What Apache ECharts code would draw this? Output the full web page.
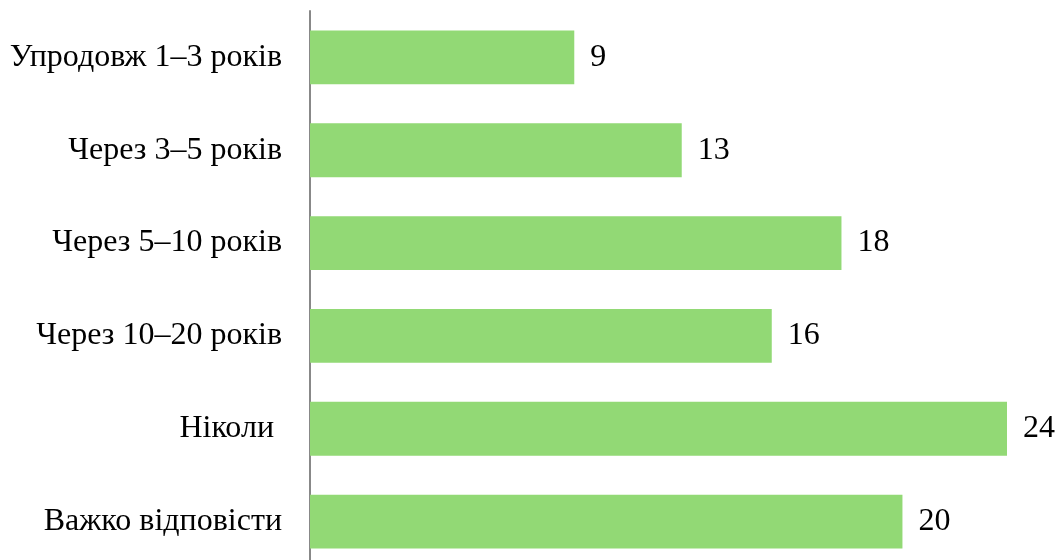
<!DOCTYPE html>
<html>
<head>
<meta charset="utf-8">
<script src="https://cdn.jsdelivr.net/npm/echarts@6/dist/echarts.min.js"></script>
<style>
  html, body { margin: 0; padding: 0; background: #fff; overflow: hidden; }
  #bar1 { width: 1062px; height: 580px; }
</style>
</head>
<body>
<div id="bar1"></div>
<script>
// категорії та значення (зверху вниз), значення оцінені за довжиною смуг
var categories = ['Упродовж 1–3 років', 'Через 3–5 років', 'Через 5–10 років', 'Через 10–20 років', 'Ніколи ', 'Важко відповісти'];
var values = [9.1, 12.8, 18.3, 15.9, 24.0, 20.4];

var myChart = echarts.init(document.getElementById('bar1'));

var option = {
    backgroundColor: '#fff',
    animation: false,
    grid: {
        left: 310,
        right: 55,
        top: 11,
        height: 557
    },
    xAxis: {
        type: 'value',
        min: 0,
        max: 24,
        show: false
    },
    yAxis: {
        type: 'category',
        inverse: true,
        data: categories,
        axisLine: {
            show: true,
            lineStyle: { color: '#888', width: 2 }
        },
        axisTick: { show: false },
        splitLine: { show: false },
        axisLabel: {
            margin: 28,
            color: '#000',
            fontFamily: 'Liberation Serif',
            fontSize: 32
        }
    },
    series: [
        {
            type: 'bar',
            data: values,
            barCategoryGap: '42%',
            itemStyle: { color: '#92D975' },
            label: {
                show: true,
                position: 'right',
                distance: 16,
                color: '#000',
                fontFamily: 'Liberation Serif',
                fontSize: 32,
                formatter: function (p) { return Math.round(p.value); }
            }
        }
    ]
};

myChart.setOption(option);
</script>
</body>
</html>
